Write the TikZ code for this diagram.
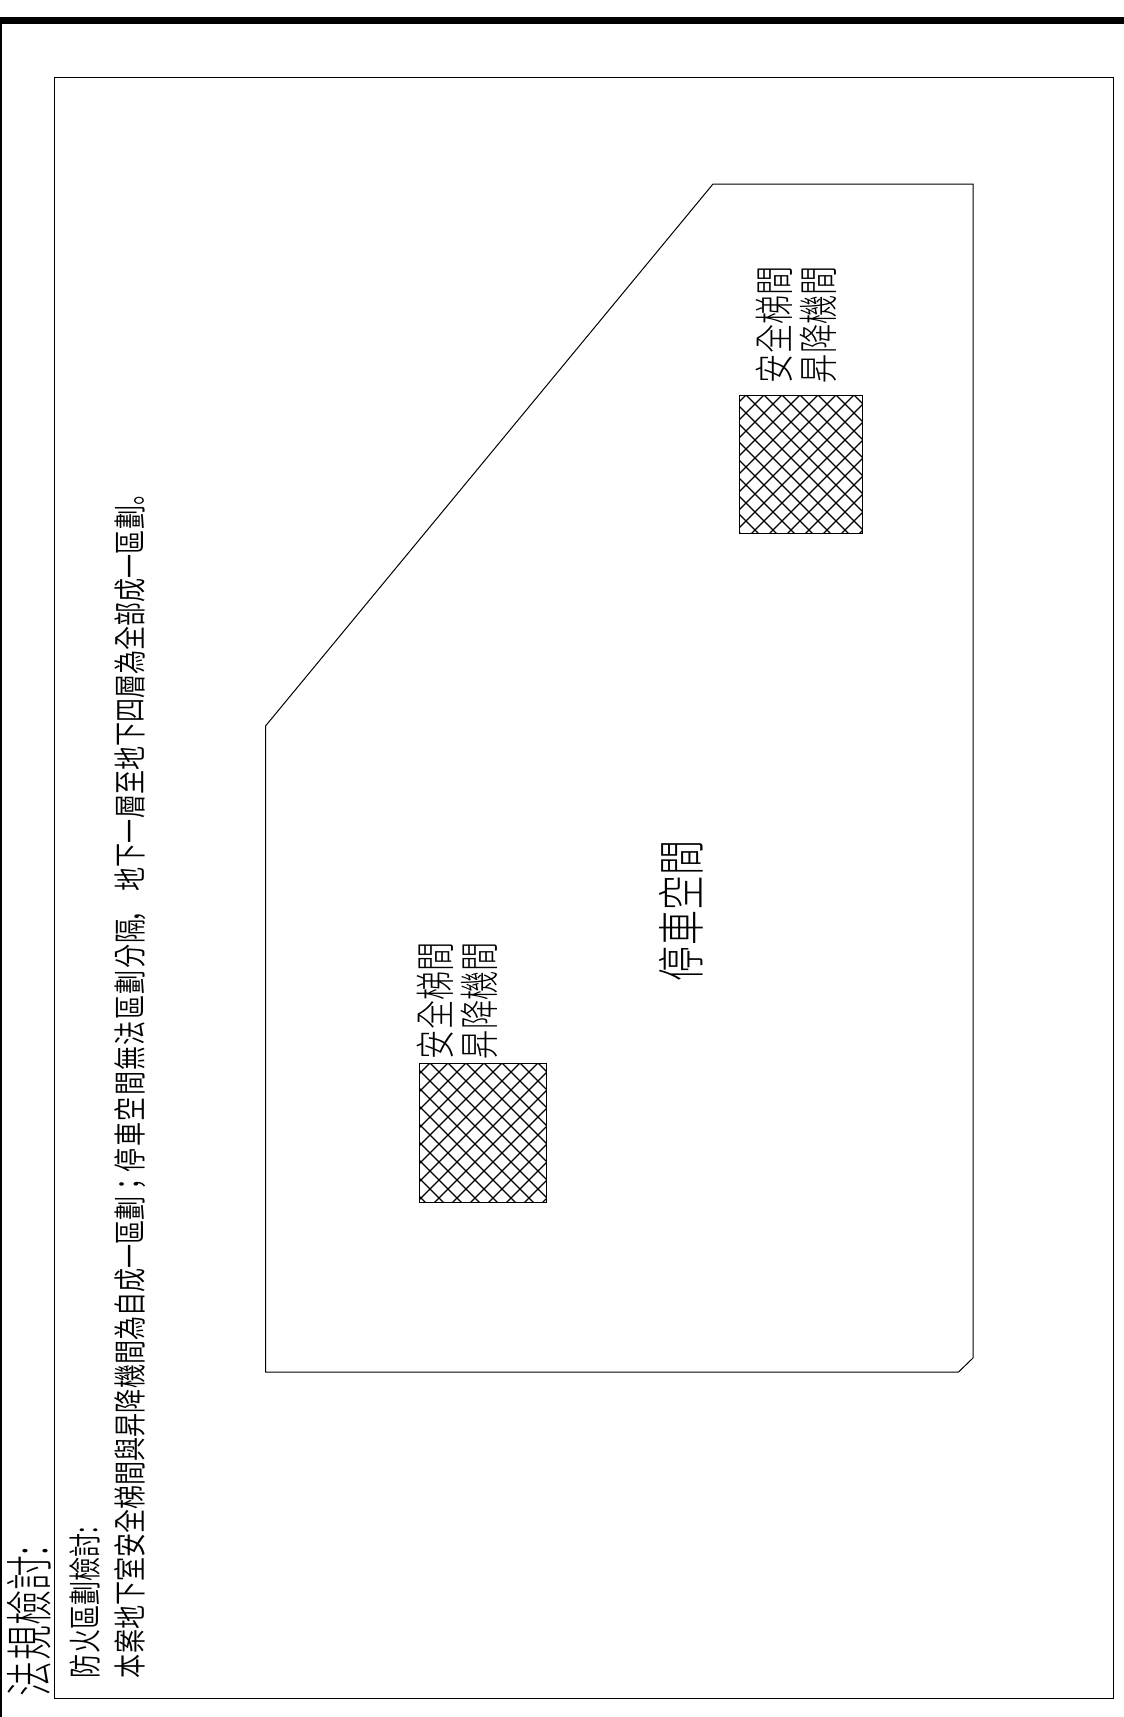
\documentclass[tikz,border=0pt]{standalone}
\usepackage{fontspec}
\newfontfamily\cjk[FakeStretch=0.73]{Noto Sans CJK TC DemiLight}
\newfontfamily\cjl[FakeStretch=0.73]{Noto Sans CJK TC Light}
\newfontfamily\cjp[FakeStretch=0.73]{Noto Sans CJK JP DemiLight}
\tikzset{
  vtext/.style={rotate=90,anchor=south west,inner sep=0pt,outer sep=0pt,text=black},
  thin line/.style={draw=black,line width=1pt,line join=miter},
}
\newcommand{\tsize}[1]{\fontsize{#1}{#1}\selectfont\cjk}
\newcommand{\bsize}[1]{\fontsize{#1}{#1}\selectfont\cjl}
\begin{document}
\begin{tikzpicture}[x=1pt,y=-1pt]
\useasboundingbox[fill=white] (0,0) rectangle (1124,1717);
% sheet frame
\fill[black] (0,16.5) rectangle (1124,24);
\draw[line width=2pt] (1,24) -- (1,1717);
\draw[thin line] (54,77) rectangle (1113.5,1698);
% floor outline
\draw[thin line] (713,184) -- (973,184) -- (973,1358) -- (958.5,1372) -- (265.5,1372) -- (265.5,726) -- cycle;
% hatched cores
\foreach \xa/\ya/\xb/\yb/\xc in {739/395/862/533/746,419/1063/546/1202/430}{
  \begin{scope}
    \clip (\xa,\ya) rectangle (\xb,\yb);
    \foreach \k in {-20,...,20}{
      \draw[line width=1.1pt] (\xc+\k*18,\ya) -- +(300,300);
      \draw[line width=1.1pt] (\xc+\k*18,\ya) -- +(-300,300);
    }
  \end{scope}
  \draw[thin line] (\xa,\ya) rectangle (\xb,\yb);
}
% texts
\node[vtext] (t1) at (51,1696) {\bsize{48}法規檢討:};
\node[vtext] (t2) at (100,1678) {\tsize{33}防火區劃檢討:};
\node[vtext] (t3) at (146,1678) {\tsize{33}本案地下室安全梯間與昇降機間為自成一區劃{\cjp；}{\addfontfeature{LetterSpace=4}停車空間無法區劃分隔}\hspace{-3pt}{\cjp，}\hspace{7pt}地下一層至地下四層為全部成一區劃{\cjp。}};
\node[vtext] (r1) at (793,383) {\bsize{40}安全梯間};
\node[vtext] (r2) at (837,383) {\bsize{40}昇降機間};
\node[vtext] (l1) at (454,1059) {\bsize{40}安全梯間};
\node[vtext] (l2) at (498,1059) {\bsize{40}昇降機間};
\node[vtext] (p) at (703,981) {\bsize{48}停車空間};
\end{tikzpicture}
\end{document}
